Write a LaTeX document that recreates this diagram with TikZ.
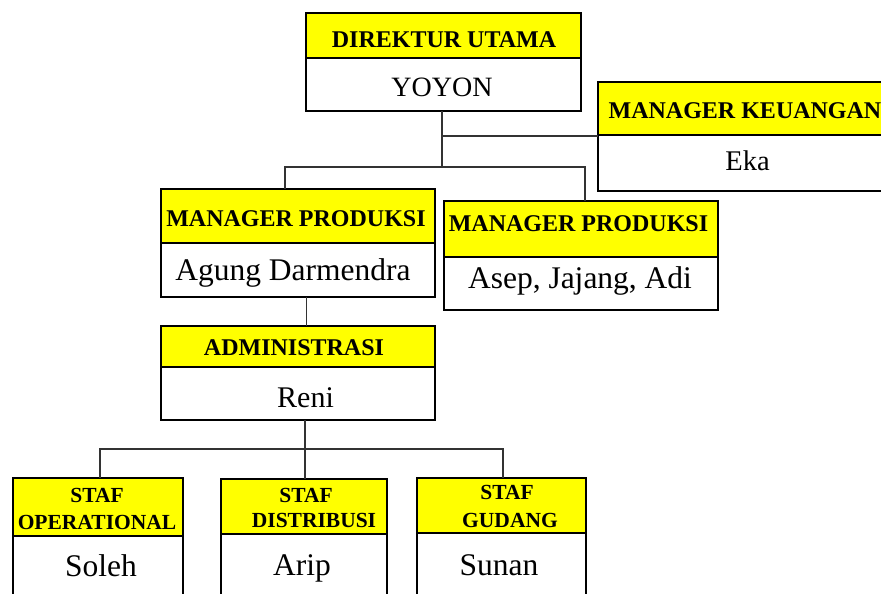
\documentclass[tikz,border=0pt]{standalone}
\usepackage{fontspec}
\setmainfont{Liberation Serif}
\definecolor{bandyellow}{HTML}{FFFF00}
\newcommand\obox[6]{%
  \node[tband, minimum width={#3-#2}, minimum height={#5-#4}] (#1t) at ({(#2+#3)/2},{(#4+#5)/2}) {};
  \node[nband, minimum width={#3-#2}, minimum height={#6-#5}] (#1n) at ({(#2+#3)/2},{(#5+#6)/2}) {};
}
\tikzset{
  tband/.style={draw=black, line width=1.8pt, fill=bandyellow, inner sep=0pt, outer sep=0pt},
  nband/.style={draw=black, line width=1.8pt, fill=white, inner sep=0pt, outer sep=0pt},
  ttl/.style={font=\fontsize{24}{28}\selectfont\bfseries, inner sep=0pt, anchor=base},
  sttl/.style={font=\fontsize{21.5}{25}\selectfont\bfseries, inner sep=0pt, anchor=base},
  nm/.style={font=\fontsize{31.5}{35}\selectfont, inner sep=0pt, anchor=base},
  conn/.style={draw=black!80, line width=1.2pt},
}
\begin{document}
\begin{tikzpicture}[x=1pt,y=-1pt]
\useasboundingbox (0,0) rectangle (881,594);
\clip (0,0) rectangle (881,594);
\fill[white] (0,0) rectangle (881,594);

\coordinate (j1) at (442,167);
\coordinate (j2) at (305,449);

% boxes
\obox{du}{306}{581}{13}{58}{111}
\obox{mk}{598}{900}{82}{135}{191}
\obox{mpa}{161}{435}{189}{243}{297}
\obox{mpb}{444}{718}{201}{257}{310}
\obox{adm}{161}{435}{326}{367}{420}
\obox{so}{13}{183}{478}{536}{610}
\obox{sd}{221}{387}{479}{534}{610}
\obox{sg}{417}{586}{478}{533}{610}

% connectors
\draw[conn] (dun.south -| j1) -- (j1);
\draw[conn] (mpat.north -| 285,0) |- (j1) -| (mpbt.north -| 585,0);
\draw[conn] (442,136) coordinate (jk) -- (jk -| mkn.west);
\draw[conn] (mpan.south -| 306.5,0) -- (admt.north -| 306.5,0);
\draw[conn] (admn.south -| j2) -- (j2);
\draw[conn] (sot.north -| 100,0) |- (j2) -| (sgt.north -| 503,0);
\draw[conn] (j2) -- (sdt.north -| j2);

% texts
\node[ttl] (duT) at (444,48) {DIREKTUR UTAMA};
\node[nm, font=\fontsize{28}{32}\selectfont] (duN) at (442,96) {YOYON};
\node[ttl] (mkT) at (745,118) {MANAGER KEUANGAN};
\node[nm, font=\fontsize{28.5}{32}\selectfont] (mkN) at (747.5,170) {Eka};
\node[ttl] (mpaT) at (296,226) {MANAGER PRODUKSI};
\node[nm] (mpaN) at (293,280) {Agung Darmendra};
\node[ttl] (mpbT) at (578.5,231) {MANAGER PRODUKSI};
\node[nm] (mpbN) at (580,288) {Asep, Jajang, Adi};
\node[ttl] (admT) at (294,355) {ADMINISTRASI};
\node[nm, font=\fontsize{30}{34}\selectfont] (admN) at (305.5,407) {Reni};
\node[sttl] (soT1) at (97,502) {STAF};
\node[sttl] (soT2) at (97,529) {OPERATIONAL};
\node[nm] (soN) at (101,576) {Soleh};
\node[sttl] (sdT1) at (306,502) {STAF};
\node[sttl] (sdT2) at (314,527) {DISTRIBUSI};
\node[nm] (sdN) at (302,575) {Arip};
\node[sttl] (sgT1) at (507,499) {STAF};
\node[sttl] (sgT2) at (510,527) {GUDANG};
\node[nm] (sgN) at (499,575) {Sunan};
\end{tikzpicture}
\end{document}
